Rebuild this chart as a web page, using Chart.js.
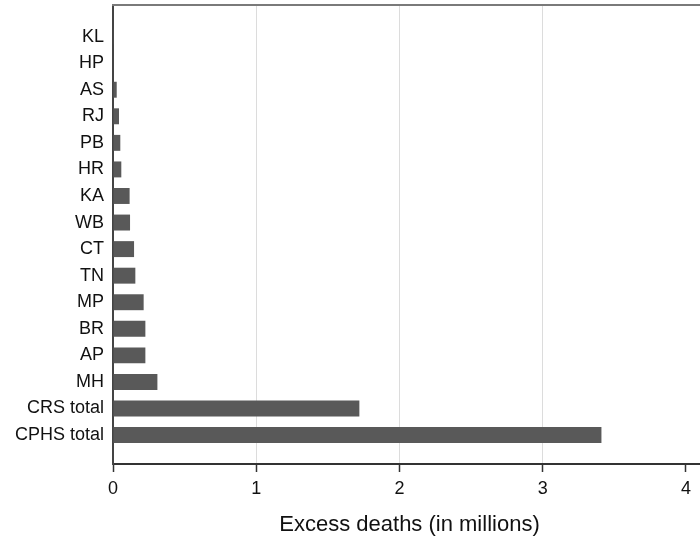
<!DOCTYPE html>
<html>
<head>
<meta charset="utf-8">
<script src="https://cdn.jsdelivr.net/npm/chart.js@4"></script>
<style>
  html, body { margin: 0; padding: 0; background: #fff; overflow: hidden; }
</style>
</head>
<body>
<canvas id="chart1" width="706" height="538"></canvas>
<script>
/************* data ********* */
const regions = ["KL", "HP", "AS", "RJ", "PB", "HR", "KA", "WB", "CT", "TN", "MP", "BR", "AP", "MH", "CRS total", "CPHS total"];
const excessDeaths = [0.002, 0.004, 0.026, 0.042, 0.051, 0.058, 0.116, 0.119, 0.147, 0.156, 0.214, 0.226, 0.226, 0.31, 1.72, 3.41];
const xTicks = [0, 1, 2, 3, 4];
const barColor = '#595959';

// frame line along the top of the plot
const topFrame = {
    id: 'topFrame',
    afterDraw(chart) {
        const { ctx, chartArea } = chart;
        ctx.save();
        ctx.strokeStyle = '#7a7a7a';
        ctx.lineWidth = 2;
        ctx.beginPath();
        ctx.moveTo(chartArea.left - 1, chartArea.top);
        ctx.lineTo(chartArea.right, chartArea.top);
        ctx.stroke();
        ctx.restore();
    }
};

Chart.defaults.font.family = '"Liberation Sans", Arial, sans-serif';
Chart.defaults.color = '#111';

new Chart("chart1", {
    type: "bar",
    data: {
        datasets: [{
            data: regions.map((r, i) => ({ x: excessDeaths[i], y: i })),
            backgroundColor: barColor,
            barPercentage: 0.6,
            categoryPercentage: 1
        }]
    },
    plugins: [topFrame],
    options: {
        indexAxis: 'y',
        responsive: false,
        animation: false,
        layout: { padding: { top: 5, right: 0, bottom: 0, left: 0 } },
        plugins: {
            legend: { display: false },
            tooltip: { enabled: false }
        },
        scales: {
            x: {
                type: 'linear',
                min: 0,
                max: 4.14,
                afterFit: (scale) => {
                    scale.height = 74;
                    scale.paddingLeft = 0;
                    scale.paddingRight = 0;
                },
                afterBuildTicks: (scale) => { scale.ticks = xTicks.map(v => ({ value: v })); },
                grid: {
                    color: (c) => (c.tick && c.tick.value > 0 && c.tick.value < 4) ? '#dcdcdc' : 'rgba(0,0,0,0)',
                    lineWidth: 1,
                    tickColor: '#333',
                    tickLength: 8,
                    tickWidth: 1.5
                },
                border: { color: '#333', width: 2 },
                ticks: {
                    font: { size: 18 },
                    padding: 6,
                    maxRotation: 0
                },
                title: {
                    display: true,
                    text: 'Excess deaths (in millions)',
                    font: { size: 22 },
                    padding: { top: 0, bottom: 0 }
                }
            },
            y: {
                type: 'linear',
                reverse: true,
                offset: false,
                min: -1.19,
                max: 16.09,
                afterFit: (scale) => {
                    scale.width = 113;
                    scale.paddingTop = 0;
                    scale.paddingBottom = 0;
                },
                afterBuildTicks: (scale) => { scale.ticks = regions.map((r, i) => ({ value: i })); },
                grid: { display: false, drawTicks: false, offset: false },
                border: { color: '#444', width: 2 },
                ticks: {
                    font: { size: 18 },
                    padding: 9,
                    callback: (v) => regions[v]
                }
            }
        }
    }
});
</script>
</body>
</html>
